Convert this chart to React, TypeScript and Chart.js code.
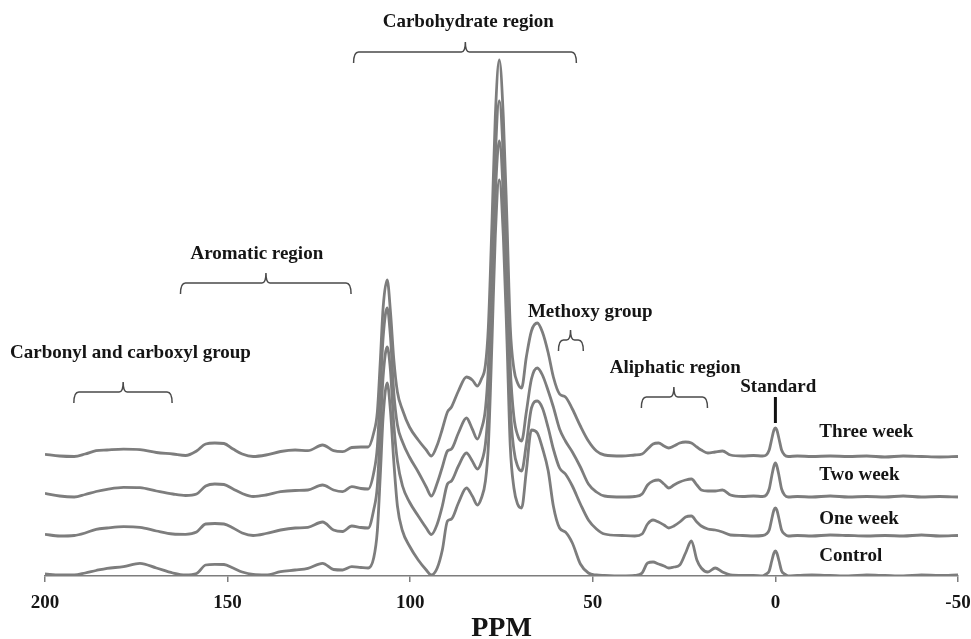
import React, { useEffect, useRef } from 'react';
import { Chart, registerables } from 'chart.js';

Chart.register(...registerables);

// ---- data (chemical shift in ppm, intensity above each trace's own baseline) ----
const PPM = [
  200, 196, 192, 189, 186, 183, 178.5, 174, 169.5, 165,
  161.5, 158.5, 156, 153.5, 151, 148.5, 146, 143, 139.5, 135.5,
  131.5, 128, 124, 121, 118.5, 116, 113.5, 111.5, 110, 109,
  108.2, 107.4, 106.3, 105.4, 104.5, 103.5, 102.1, 100.2, 97.8, 95.6,
  94.2, 92.6, 91.2, 89.8, 88.7, 86.8, 84.6, 83, 81.6, 80.5,
  79.4, 78.6, 77.6, 76.7, 75.6, 74.5, 73.5, 72.6, 71.6, 70.6,
  69.5, 68.2, 66.8, 65.2, 63.8, 62.2, 60.8, 59.1, 57.5, 55.6,
  53.4, 51.2, 49, 46.8, 42, 38.5, 36.5, 35, 33.5, 32,
  30.5, 29.2, 27.8, 26.2, 24.6, 23, 21.5, 20.3, 18.5, 16.5,
  14.5, 12.3, 9, 6, 3.5, 2.5, 1.7, 1, 0.4, 0,
  -0.4, -1, -1.7, -2.5, -3.5, -6, -10, -15, -20, -25,
  -30, -35, -40, -45, -50,
];

const THREE_WEEK = [
  2.7, 1, 0.5, 3, 6.3, 7, 7.8, 7.3, 4.5, 3,
  1.5, 6, 13, 14, 13.5, 8, 3, 0.5, 2, 5.5,
  7, 6.3, 12, 6.3, 5.3, 9.5, 10, 10, 24, 45,
  95, 150, 177, 145, 98, 65, 47, 30, 17, 7,
  1, 12, 28, 45, 50, 66, 80, 77, 71, 78,
  92, 130, 235, 340, 397, 340, 235, 130, 88, 74,
  69, 100, 126, 134, 125, 104, 80, 63, 60, 48,
  31, 16, 6, 2, 1, 2, 3, 8, 13, 14,
  11, 9, 11, 14, 15, 14, 10, 7, 4, 5,
  6, 2, 1, 1.5, 1, 2, 7, 18, 27, 29,
  27, 18, 7, 2, 0.5, 1, 0.5, 1, 0.5, 1,
  0, 1, 0.5, 0, 0.5,
];

const TWO_WEEK = [
  3.7, 1, 0, 2.5, 5.5, 7.7, 9.7, 9.3, 6, 3,
  1.5, 3, 11, 13, 12.5, 8, 3.5, 0.5, 2, 5.3,
  6.5, 7, 12, 7, 5.3, 10.3, 8.5, 8, 24, 50,
  105, 160, 189, 160, 105, 72, 55, 40, 25, 10,
  1, 14, 30, 46, 48, 64, 79, 68, 58, 68,
  88, 130, 235, 340, 396, 340, 235, 130, 80, 62,
  56, 85, 118, 129, 122, 106, 90, 68, 56, 45,
  30, 13, 5, 1, 0, 0.5, 3, 12, 16, 17,
  13, 9, 12, 15, 17, 18, 12, 7, 6, 6,
  7, 2, 0.5, 1, 0.5, 2, 8, 21, 31, 34,
  31, 21, 8, 2, 0, 0.5, 0, 1, 0, 0.5,
  0, 1, 0, 0.5, 0,
];

const ONE_WEEK = [
  1.7, 0, 0.5, 3, 6.7, 8, 9.3, 8.7, 5, 2,
  1.7, 4, 12, 12.5, 12, 8, 3, 0.5, 2.5, 6,
  8, 8.7, 14, 6, 4.5, 10, 8.5, 8, 26, 50,
  105, 160, 189, 165, 112, 75, 50, 34, 20, 8,
  1.5, 12, 30, 52, 55, 70, 83, 75, 67, 74,
  92, 130, 235, 340, 395, 340, 235, 130, 86, 70,
  65, 92, 128, 135, 128, 108, 87, 68, 62, 50,
  32, 16, 7, 2, 0.5, 0, 2, 12, 16, 14,
  11, 8, 10, 14, 19, 20, 14, 10, 7, 6,
  4, 1, 0.5, 0, 0.5, 2, 6, 17, 26, 28,
  26, 17, 6, 2, 0, 0.5, 0, 1, 0.5, 0,
  0.5, 0, 1, 0, 0.5,
];

const CONTROL = [
  2, 1, 1, 3, 5.5, 7.7, 9.3, 12.7, 8, 3,
  1, 2.5, 11, 11.7, 11.5, 8, 4, 1.5, 1, 4.3,
  6, 7.7, 12.7, 6.5, 6, 9.3, 8.5, 8, 18, 45,
  100, 160, 193, 165, 115, 70, 45, 30, 16, 6,
  1, 8, 26, 55, 57, 73, 88, 80, 71, 78,
  95, 130, 235, 340, 396, 340, 235, 130, 88, 72,
  68, 105, 146, 143, 128, 105, 70, 48, 44, 33,
  12, 3, 1, 0.5, 0, 0.5, 3, 13, 14, 12,
  10, 8, 9, 11, 23, 35, 16, 8, 4, 8,
  4, 1, 0.5, 0.5, 0, 2, 5, 15, 23, 25,
  23, 15, 5, 2, 0, 0.5, 1, 0.5, 0, 1,
  0.5, 0, 1, 0.5, 1,
];

const SERIES_NAMES = ['Three week', 'Two week', 'One week', 'Control'];
const SERIES_VALUES = [THREE_WEEK, TWO_WEEK, ONE_WEEK, CONTROL];
// vertical stacking offset of each spectrum (same units as intensity)
const SERIES_OFFSETS = [119, 79, 40, 0];

const X_TICKS = [200, 150, 100, 50, 0, -50];

const REGION_LABELS = [
  'Carbohydrate region',
  'Aromatic region',
  'Carbonyl and carboxyl group',
  'Methoxy group',
  'Aliphatic region',
];
// ppm ranges covered by each region bracket
const REGION_RANGES: [number, number][] = [
  [115.5, 54.5],
  [162.9, 116.2],
  [192.1, 165.2],
  [59.4, 52.6],
  [36.7, 18.6],
];
const STANDARD_LABEL = 'Standard';
const STANDARD_PPM = 0;

// ---- layout of the annotations (positions in axis units) ----
const REGION_LAYOUT = [
  { textX: 84.1, textY: 554, braceY: 524, tipX: 84.9 },
  { textX: 142, textY: 322, braceY: 293, tipX: 139.5 },
  { textX: 176.6, textY: 223, braceY: 184, tipX: 178.6 },
  { textX: 50.7, textY: 264, braceY: 236, tipX: 56.1 },
  { textX: 27.4, textY: 208, braceY: 179, tipX: 27.8 },
];
const STANDARD_LAYOUT = { textX: -0.8, textY: 189, barTop: 179, barBottom: 153 };
const SERIES_LABEL_X = -12;
const SERIES_LABEL_Y = [144, 101, 57, 20];

const FONT_FAMILY = '"Liberation Serif", "Times New Roman", serif';
const TEXT_COLOR = '#151515';
const LINE_COLOR = '#7d7d7d';

function drawBrace(ctx: CanvasRenderingContext2D, x1: number, x2: number, xt: number, y: number) {
  const drop = 11;
  const tip = 10;
  const r = 5;
  const left = Math.min(x1, x2);
  const right = Math.max(x1, x2);
  ctx.beginPath();
  ctx.moveTo(left, y + drop);
  ctx.quadraticCurveTo(left, y, left + r, y);
  ctx.lineTo(xt - 4, y);
  ctx.quadraticCurveTo(xt, y, xt, y - tip);
  ctx.moveTo(xt, y - tip);
  ctx.quadraticCurveTo(xt, y, xt + 4, y);
  ctx.lineTo(right - r, y);
  ctx.quadraticCurveTo(right, y, right, y + drop);
  ctx.stroke();
}

const annotationPlugin = {
  id: 'nmrAnnotations',
  afterDraw(chart: any) {
    const { ctx } = chart;
    const xs = chart.scales.x;
    const ys = chart.scales.y;
    ctx.save();
    ctx.font = `bold 19px ${FONT_FAMILY}`;
    ctx.fillStyle = TEXT_COLOR;
    ctx.textAlign = 'center';
    ctx.textBaseline = 'middle';
    ctx.strokeStyle = '#4a4a4a';
    ctx.lineWidth = 1.5;
    REGION_LABELS.forEach((label, i) => {
      const lay = REGION_LAYOUT[i];
      const [from, to] = REGION_RANGES[i];
      ctx.fillText(label, xs.getPixelForValue(lay.textX), ys.getPixelForValue(lay.textY));
      drawBrace(
        ctx,
        xs.getPixelForValue(from),
        xs.getPixelForValue(to),
        xs.getPixelForValue(lay.tipX),
        ys.getPixelForValue(lay.braceY),
      );
    });
    // standard marker
    ctx.fillText(STANDARD_LABEL, xs.getPixelForValue(STANDARD_LAYOUT.textX), ys.getPixelForValue(STANDARD_LAYOUT.textY));
    ctx.beginPath();
    ctx.strokeStyle = '#111';
    ctx.lineWidth = 3;
    const sx = xs.getPixelForValue(STANDARD_PPM);
    ctx.moveTo(sx, ys.getPixelForValue(STANDARD_LAYOUT.barTop));
    ctx.lineTo(sx, ys.getPixelForValue(STANDARD_LAYOUT.barBottom));
    ctx.stroke();
    // series labels
    ctx.textAlign = 'left';
    SERIES_NAMES.forEach((name, i) => {
      ctx.fillText(name, xs.getPixelForValue(SERIES_LABEL_X), ys.getPixelForValue(SERIES_LABEL_Y[i]));
    });
    ctx.restore();
  },
};

export default function App() {
  const canvasRef = useRef<HTMLCanvasElement>(null);

  useEffect(() => {
    if (!canvasRef.current) return;
    const datasets = SERIES_NAMES.map((name, i) => ({
      label: name,
      data: PPM.map((p, k) => ({ x: p, y: SERIES_VALUES[i][k] + SERIES_OFFSETS[i] })),
      borderColor: LINE_COLOR,
      borderWidth: 2.8,
      pointRadius: 0,
      fill: false,
      cubicInterpolationMode: 'monotone' as const,
    }));

    const chart = new Chart(canvasRef.current, {
      type: 'line',
      data: { datasets },
      options: {
        animation: false,
        responsive: false,
        maintainAspectRatio: false,
        layout: { padding: { left: 45, right: 13, top: 16, bottom: 0 } },
        plugins: {
          legend: { display: false },
          tooltip: { enabled: false },
          title: { display: false },
        },
        scales: {
          x: {
            type: 'linear',
            min: -50,
            max: 200,
            reverse: true,
            afterFit: (s: any) => {
              s.height = 63;
              s.paddingLeft = 0;
              s.paddingRight = 0;
            },
            afterBuildTicks: (s: any) => {
              s.ticks = X_TICKS.map((v) => ({ value: v }));
            },
            ticks: {
              autoSkip: false,
              maxRotation: 0,
              padding: 12,
              color: TEXT_COLOR,
              font: { family: FONT_FAMILY, size: 19, weight: 'bold', lineHeight: 1 },
            },
            grid: {
              display: true,
              drawOnChartArea: false,
              drawTicks: true,
              tickLength: 6,
              color: '#7d7d7d',
              lineWidth: 1.5,
            },
            border: { display: true, color: '#7d7d7d', width: 1.5 },
            title: {
              display: true,
              text: 'PPM',
              color: TEXT_COLOR,
              padding: { top: 0, bottom: -4 },
              font: { family: FONT_FAMILY, size: 28, weight: 'bold', lineHeight: 1 },
            },
          },
          y: {
            type: 'linear',
            display: false,
            min: 0,
            max: 560,
          },
        },
      },
      plugins: [annotationPlugin],
    });
    return () => chart.destroy();
  }, []);

  return (
    <div style={{ position: 'absolute', left: 0, top: 0, width: 971, height: 639, background: '#fff' }}>
      <canvas ref={canvasRef} width={971} height={639} style={{ display: 'block' }} />
    </div>
  );
}
